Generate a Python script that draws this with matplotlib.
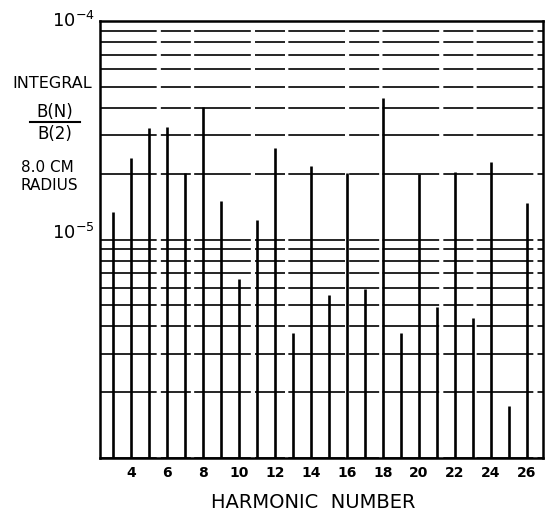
import matplotlib
matplotlib.use("Agg")
import matplotlib.pyplot as plt
from matplotlib.ticker import LogLocator, NullFormatter, FixedLocator

harmonics = list(range(3, 27))
ratios = [1.34e-5, 2.36e-5, 3.24e-5, 3.27e-5, 2.02e-5, 4.04e-5, 1.50e-5, 6.6e-6,
          1.23e-5, 2.62e-5, 3.73e-6, 2.17e-5, 5.57e-6, 2.02e-5, 5.93e-6, 4.44e-5,
          3.73e-6, 2.00e-5, 4.91e-6, 2.04e-5, 4.37e-6, 2.26e-5, 1.73e-6, 1.47e-5]
xtick_vals = [4, 6, 8, 10, 12, 14, 16, 18, 20, 22, 24, 26]
xtick_labels = [str(v) for v in xtick_vals]

plt.rcParams['font.family'] = ['DejaVu Sans']

fig = plt.figure(figsize=(5.57, 5.12), dpi=100)
ax = fig.add_axes([100/557, 1-458/512, (543-100)/557, (458-21)/512])
ax.set_yscale('log')
ax.set_ylim(1e-6, 1e-4)
ax.set_xlim(2.27, 26.9)

# horizontal grid at every major and minor decade line
ax.yaxis.set_major_locator(FixedLocator([1e-6, 1e-5, 1e-4]))
ax.yaxis.set_minor_locator(LogLocator(base=10, subs=range(2, 10), numticks=20))
ax.yaxis.set_major_formatter(NullFormatter())
ax.yaxis.set_minor_formatter(NullFormatter())
ax.grid(True, axis='y', which='both', color='black', lw=1.2, linestyle=(0, (34, 2.5, 18, 2)))
ax.tick_params(axis='y', which='both', length=0)

ax.vlines(harmonics, 1e-6, ratios, color='black', lw=1.9, zorder=3)

ax.set_xticks(xtick_vals)
ax.set_xticklabels(xtick_labels, fontsize=10, fontweight='bold')
ax.tick_params(axis='x', length=0, pad=6)

for s in ax.spines.values():
    s.set_linewidth(1.8)
    s.set_color('black')

fig.text(313/557, 1-502/512, 'HARMONIC  NUMBER', ha='center', va='center', fontsize=14)

# y-axis labels
ax.text(-0.012, 1e-4, r'$\mathregular{10^{-4}}$', transform=ax.get_yaxis_transform(),
        ha='right', va='center', fontsize=13)
ax.text(-0.012, 1.07e-5, r'$\mathregular{10^{-5}}$', transform=ax.get_yaxis_transform(),
        ha='right', va='center', fontsize=13)

fig.text(52/557, 1-83/512, 'INTEGRAL', ha='center', va='center', fontsize=11.5)
fig.text(55/557, 1-112/512, 'B(N)', ha='center', va='center', fontsize=12)
fig.add_artist(plt.Line2D([30/557, 80/557], [1-122/512, 1-122/512], color='black', lw=1.5))
fig.text(55/557, 1-134/512, 'B(2)', ha='center', va='center', fontsize=12)
fig.text(47/557, 1-168/512, '8.0 CM', ha='center', va='center', fontsize=11)
fig.text(49/557, 1-185/512, 'RADIUS', ha='center', va='center', fontsize=11)

fig.savefig('out.png', dpi=100)
